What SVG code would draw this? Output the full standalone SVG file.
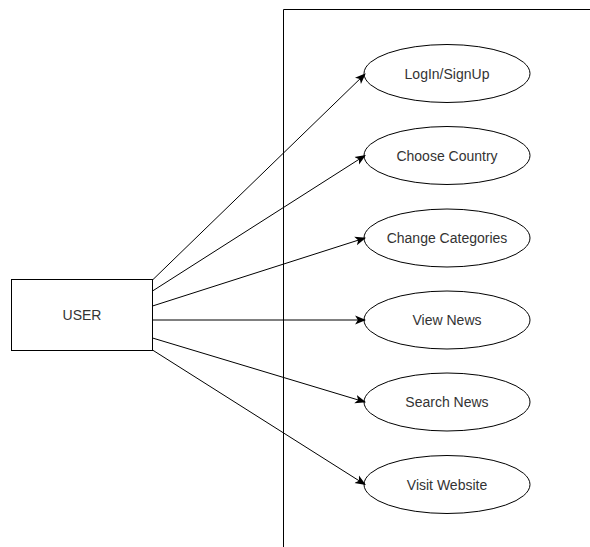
<svg xmlns="http://www.w3.org/2000/svg" width="590" height="547" viewBox="0 0 590 547">
<style>
.shape{fill:#fff;stroke:#000;stroke-width:1}
.lbl{font-family:"Liberation Sans",Arial,sans-serif;font-size:14px;fill:#333;text-anchor:middle;dominant-baseline:central}
.conn{stroke:#000;stroke-width:1;fill:none;marker-end:url(#arr)}
</style>
<defs>
<marker id="arr" viewBox="0 0 10 10" refX="9" refY="5" markerWidth="11" markerHeight="11" markerUnits="userSpaceOnUse" orient="auto">
<path d="M0,1 L10,5 L0,9 L2.5,5 Z" fill="#000"/>
</marker>
</defs>
<g id="boundary">
<path d="M283.5,547 L283.5,9.5 L590,9.5" fill="none" stroke="#000" stroke-width="1"/>
</g>
<g id="user">
<rect class="shape" x="11.5" y="279.5" width="141" height="71"/>
<text class="lbl" x="82" y="315">USER</text>
</g>
<g id="login">
<ellipse class="shape" cx="447" cy="73.5" rx="83" ry="29"/>
<text class="lbl" x="447" y="73.5">LogIn/SignUp</text>
</g>
<g id="country">
<ellipse class="shape" cx="447" cy="155.5" rx="83" ry="29"/>
<text class="lbl" x="447" y="155.5">Choose Country</text>
</g>
<g id="categories">
<ellipse class="shape" cx="447" cy="238" rx="83" ry="29"/>
<text class="lbl" x="447" y="238">Change Categories</text>
</g>
<g id="viewnews">
<ellipse class="shape" cx="447" cy="320" rx="83" ry="29"/>
<text class="lbl" x="447" y="320">View News</text>
</g>
<g id="searchnews">
<ellipse class="shape" cx="447" cy="402" rx="83" ry="29"/>
<text class="lbl" x="447" y="402">Search News</text>
</g>
<g id="visitwebsite">
<ellipse class="shape" cx="447" cy="484.5" rx="83" ry="29"/>
<text class="lbl" x="447" y="484.5">Visit Website</text>
</g>
<g id="connectors">
<line class="conn" x1="152.5" y1="280" x2="365" y2="74"/>
<line class="conn" x1="152.5" y1="291" x2="365" y2="155.5"/>
<line class="conn" x1="152.5" y1="306" x2="365" y2="238"/>
<line class="conn" x1="152.5" y1="320" x2="365" y2="320"/>
<line class="conn" x1="152.5" y1="338" x2="365" y2="402"/>
<line class="conn" x1="152.5" y1="350" x2="365" y2="484.5"/>
</g>
</svg>
